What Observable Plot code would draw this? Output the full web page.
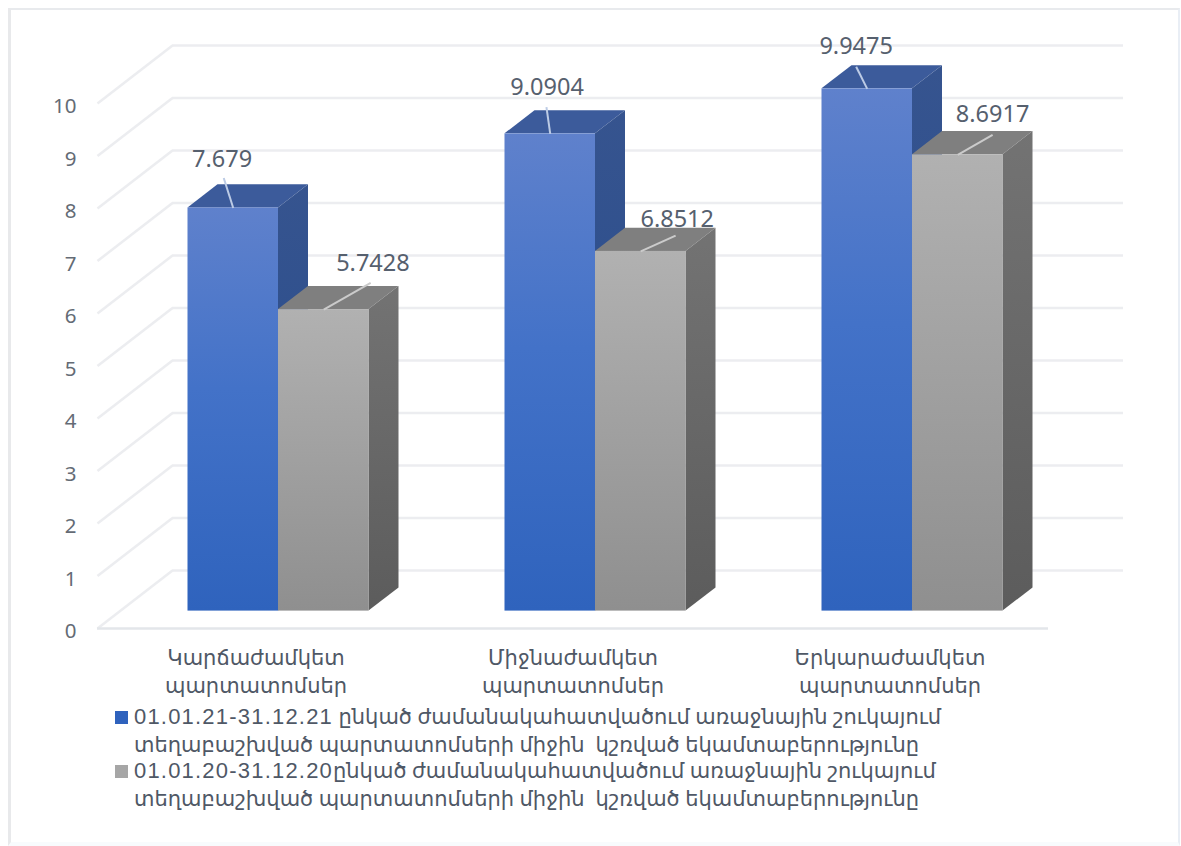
<!DOCTYPE html>
<html lang="hy">
<head>
<meta charset="utf-8">
<script src="https://cdn.jsdelivr.net/npm/d3@7"></script>
<script src="https://cdn.jsdelivr.net/npm/@observablehq/plot@0.6"></script>
<style>
  html, body { margin: 0; padding: 0; background: #fff; }
  body { width: 1181px; height: 846px; overflow: hidden; position: relative; font-family: "Noto Sans", "DejaVu Sans", sans-serif; }
  #frame { position: absolute; left: 8px; top: 8px; width: 1172px; height: 838px; box-sizing: border-box;
           border-top: 2px solid #e8eaed; border-left: 3px solid #e8e9eb; border-right: 2px solid #e9eef5; border-bottom: 4px solid #f8fbfd; }
  #chart { position: absolute; left: 0; top: 0; }
  #chart svg { display: block; background: transparent; }
  #legend { position: absolute; left: 115px; top: 704px; width: 860px; color: #4f5866; font-size: 21px; }
  .entry { position: relative; padding-left: 19px; }
  .line { white-space: pre; height: 24px; line-height: 24px; margin-bottom: 4px; }
  .entry:first-child .line:last-child { margin-bottom: 2px; }
  .swatch { position: absolute; left: 0; top: 7px; width: 13px; height: 13px; }
  .dates { font-family: "Liberation Sans", Arial, sans-serif; font-size: 22px; letter-spacing: 1.2px; }
</style>
</head>
<body>
<div id="frame"></div>
<div id="chart"></div>
<div id="legend"></div>
<script>
// Weighted average yield of bonds placed on the primary market, by maturity class.
const categories = ["Կարճաժամկետ\nպարտատոմսեր", "Միջնաժամկետ\nպարտատոմսեր", "Երկարաժամկետ\nպարտատոմսեր"];
const yields2021 = [7.679, 9.0904, 9.9475];
const yields2020 = [5.7428, 6.8512, 8.6917];
const legendDates = ["01.01.21-31.12.21", "01.01.20-31.12.20"];
const legendFirstLines = [
  " ընկած ժամանակահատվածում առաջնային շուկայում",
  "ընկած ժամանակահատվածում առաջնային շուկայում"
];
const legendSecondLine = "տեղաբաշխված պարտատոմսերի միջին  կշռված եկամտաբերությունը";
const valueLabels = ["7.679", "9.0904", "9.9475", "5.7428", "6.8512", "8.6917"];

// Oblique projection: z runs from the front of the floor (0) to the back wall (1).
const DEPTH_X = 0.2366;  // x units per unit of z
const DEPTH_Y = 1.105;   // y units per unit of z
const BAR_W = 0.2855;
const Z_FRONT = 0.30;
const Z_BACK = 0.70;
const px = (x, z) => x + z * DEPTH_X;
const py = (v, z) => v + z * DEPTH_Y;

const seriesStyle = [
  {front: "url(#blueFront)", side: "url(#blueSide)", top: "#3c5b9b", leader: "#bccbe5"},
  {front: "url(#greyFront)", side: "url(#greySide)", top: "#7f7f7f", leader: "#cbcbcb"}
];
// Where each data label sits relative to the front edge of its bar top.
const leaderShift = [
  [{x: -0.03, y: 0.57}, {x: -0.012, y: 0.51}, {x: -0.035, y: 0.42}],
  [{x: 0.148, y: 0.51}, {x: 0.11, y: 0.30}, {x: 0.11, y: 0.38}]
];
const labelShift = [
  [{x: -0.035, y: 0.92}, {x: -0.01, y: 0.88}, {x: -0.035, y: 0.80}],
  [{x: 0.155, y: 0.88}, {x: 0.115, y: 0.61}, {x: 0.11, y: 0.77}]
];

const series = [yields2021, yields2020];
const bars = series.map((values, j) => values.map((value, i) => ({
  i, j, value,
  x0: i + 0.5 - BAR_W + j * BAR_W,
  x1: i + 0.5 + j * BAR_W
})));

const gridValues = d3.range(0, 11);

const defs = () => d3.create("svg:g").html(`
  <defs>
    <linearGradient id="blueFront" x1="0" y1="0" x2="0" y2="1">
      <stop offset="0" stop-color="#5f81cc"/><stop offset="0.45" stop-color="#4372c8"/><stop offset="1" stop-color="#2f63bd"/>
    </linearGradient>
    <linearGradient id="blueSide" x1="0" y1="0" x2="0" y2="1">
      <stop offset="0" stop-color="#36548f"/><stop offset="1" stop-color="#244a8b"/>
    </linearGradient>
    <linearGradient id="greyFront" x1="0" y1="0" x2="0" y2="1">
      <stop offset="0" stop-color="#b1b1b1"/><stop offset="1" stop-color="#8f8f8f"/>
    </linearGradient>
    <linearGradient id="greySide" x1="0" y1="0" x2="0" y2="1">
      <stop offset="0" stop-color="#737373"/><stop offset="1" stop-color="#5c5c5c"/>
    </linearGradient>
  </defs>`).node();

// One bar is three faces: top and side parallelograms behind a front rectangle.
const barMarks = bars.map((rows, j) => {
  const topRows = rows.flatMap((b) => [Z_FRONT, Z_BACK].map((z) => ({
    id: b.i, y: py(b.value, z), xa: px(b.x0, z), xb: px(b.x1, z)
  })));
  const sideRows = rows.flatMap((b) => [Z_FRONT, Z_BACK].map((z) => ({
    id: b.i, x: px(b.x1, z), yLow: py(0, z), yHigh: py(b.value, z)
  })));
  return [
    Plot.areaX(topRows, {y: "y", x1: "xa", x2: "xb", z: "id", fill: seriesStyle[j].top}),
    Plot.areaY(sideRows, {x: "x", y1: "yLow", y2: "yHigh", z: "id", fill: seriesStyle[j].side}),
    Plot.rect(rows, {
      x1: (b) => px(b.x0, Z_FRONT), x2: (b) => px(b.x1, Z_FRONT),
      y1: py(0, Z_FRONT), y2: (b) => py(b.value, Z_FRONT),
      fill: seriesStyle[j].front
    })
  ];
});

const flatBars = bars.flat();
const leaderX = (b) => px((b.x0 + b.x1) / 2, Z_FRONT);
const leaderY = (b) => py(b.value, Z_FRONT);

const chart = Plot.plot({
  width: 1181,
  height: 704,
  marginLeft: 76,
  marginRight: 0,
  marginTop: 0,
  marginBottom: 0,
  x: {domain: [0, 3], range: [97, 1048]},
  y: {domain: [0, 10], range: [628, 103]},
  marks: [
    defs,
    // Back wall gridlines
    Plot.ruleY(gridValues, {
      y: (v) => py(v, 1), x1: px(0, 1), x2: px(3, 1),
      stroke: "#ecedf0", strokeWidth: 2.5
    }),
    // Side wall gridlines, running from the axis to the back wall
    Plot.link(gridValues, {
      x1: 0, y1: (v) => v, x2: px(0, 1), y2: (v) => py(v, 1),
      stroke: "#ecedf0", strokeWidth: 2.5
    }),
    // Front edge of the floor
    Plot.ruleY([0], {x1: 0, x2: 3, stroke: "#e3e6ea", strokeWidth: 2.5}),
    barMarks,
    // Leader lines from the bar tops to the value labels
    bars.map((rows, j) => Plot.link(rows, {
      x1: leaderX, y1: leaderY,
      x2: (b) => leaderX(b) + leaderShift[b.j][b.i].x,
      y2: (b) => leaderY(b) + leaderShift[b.j][b.i].y,
      stroke: seriesStyle[j].leader, strokeWidth: 2
    })),
    Plot.text(flatBars, {
      x: (b) => leaderX(b) + labelShift[b.j][b.i].x,
      y: (b) => leaderY(b) + labelShift[b.j][b.i].y,
      text: (b) => valueLabels[b.j * 3 + b.i],
      fontSize: 23.5, fill: "#56606e"
    }),
    Plot.axisY({
      ticks: gridValues, tickSize: 0, tickPadding: 0, label: null, dy: 3,
      fontSize: 20.5, color: "#646b75", tickFormat: (d) => `${d}`
    }),
    Plot.axisX({
      ticks: [0.5, 1.5, 2.5], tickSize: 0, label: null, anchor: "bottom",
      tickFormat: (d) => categories[Math.floor(d)],
      fontSize: 21, color: "#4f5866", lineHeight: 1.33, frameAnchor: "bottom",
      dy: -21, textAnchor: "middle", lineAnchor: "bottom"
    })
  ]
});
chart.style.fontFamily = '"Noto Sans", "DejaVu Sans", sans-serif';
document.getElementById("chart").append(chart);

// Legend below the plot, one block per line of text
const legend = d3.select("#legend");
const swatches = ["#2f62bd", "#a6a6a6"];
legendFirstLines.forEach((label, k) => {
  const entry = legend.append("div").attr("class", "entry");
  entry.append("span").attr("class", "swatch").style("background", swatches[k]);
  const first = entry.append("div").attr("class", "line");
  first.append("span").attr("class", "dates").text(legendDates[k]);
  first.append("span").text(label);
  entry.append("div").attr("class", "line").text(legendSecondLine);
});
</script>
</body>
</html>
